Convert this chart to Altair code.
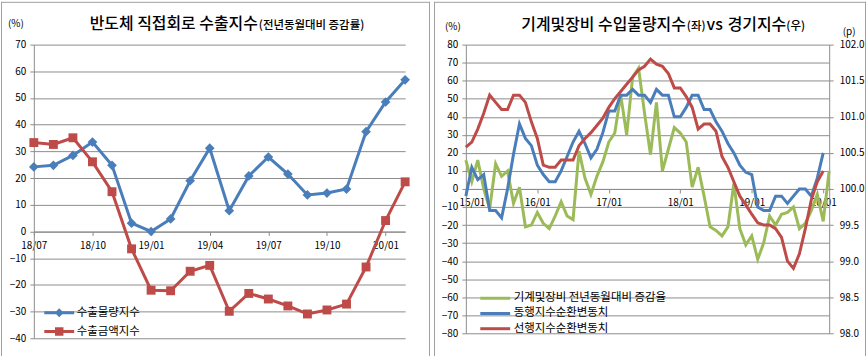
import json
import altair as alt
import pandas as pd

FONT = "Noto Sans CJK KR"
BLUE = "#4A7EBB"
RED = "#BE4B48"
GREEN = "#9BBB59"
GRID = "#8C8C8C"
BORDER = "#A0A0A0"

# ---------------- left chart data ----------------
left_months = ["18/07", "18/08", "18/09", "18/10", "18/11", "18/12", "19/01", "19/02",
               "19/03", "19/04", "19/05", "19/06", "19/07", "19/08", "19/09", "19/10",
               "19/11", "19/12", "20/01", "20/02"]
export_volume = [24.2, 24.8, 28.5, 33.5, 24.8, 3.1, 0.0, 4.7, 19.0, 31.2,
                 7.8, 20.8, 27.9, 21.5, 13.7, 14.4, 15.9, 37.4, 48.5, 56.8]
export_value = [33.3, 32.6, 35.1, 26.1, 14.9, -6.5, -22.0, -22.2, -14.9, -12.7,
                -29.9, -23.2, -25.3, -27.9, -30.9, -29.4, -27.2, -13.3, 4.1, 18.6]
left_tick_labels = ["18/07", "18/10", "19/01", "19/04", "19/07", "19/10", "20/01"]
left_series = ["수출물량지수", "수출금액지수"]
left_title = "반도체 직접회로 수출지수"
left_subtitle = "(전년동월대비 증감률)"

# ---------------- right chart data ----------------
right_months = [f"{y}/{m:02d}" for y in range(15, 21) for m in range(1, 13)][:62]
machinery_yoy = [16, 4, 16, 0, -11, 14, 7, 10, -8, 1,
                 -21, -20, -13, -19, -22, -15, -7, -15, -17, 21,
                 6, -3, 7, 15, 26, 31, 52, 30, 62, 67,
                 42, 19, 48, 10, 22, 34, 31, 26, 1, 12,
                 -4, -21, -23, -26, -21, 3, -22, -31, -26, -39,
                 -30, -15, -20, -14, -13, -10, -22, -19, -12, -3,
                 -18, 10]
coincident = [99.90, 100.30, 100.13, 100.20, 99.70, 99.70, 99.60, 100.00, 100.48, 100.90,
              100.70, 100.60, 100.33, 100.20, 100.10, 100.10, 100.25, 100.45, 100.65, 100.80,
              100.63, 100.43, 100.55, 100.78, 101.08, 101.08, 101.30, 101.30, 101.38, 101.30,
              101.30, 101.20, 101.38, 101.30, 101.30, 101.00, 101.00, 101.13, 101.30, 101.30,
              101.10, 101.10, 100.93, 100.80, 100.63, 100.50, 100.33, 100.23, 100.20, 99.75,
              99.70, 99.70, 99.90, 99.90, 99.80, 99.90, 100.00, 100.00, 99.90, 100.15,
              100.50]
leading = [100.58, 100.65, 100.83, 101.05, 101.30, 101.20, 101.10, 101.10, 101.30, 101.30,
           101.20, 100.93, 100.70, 100.33, 100.30, 100.30, 100.40, 100.40, 100.40, 100.60,
           100.70, 100.78, 100.88, 100.98, 101.13, 101.25, 101.35, 101.45, 101.55, 101.65,
           101.70, 101.80, 101.73, 101.70, 101.60, 101.40, 101.40, 101.28, 101.13, 100.83,
           100.90, 100.90, 100.80, 100.45, 100.30, 100.10, 99.90, 99.78, 99.65, 99.53,
           99.50, 99.50, 99.45, 99.33, 99.00, 98.90, 99.10, 99.45, 99.85, 100.10,
           100.25]
right_tick_labels = ["15/01", "16/01", "17/01", "18/01", "19/01", "20/01"]
right_series = ["기계및장비 전년동월대비 증감율", "동행지수순환변동치", "선행지수순환변동치"]
right_title_parts = ["기계및장비 수입물량지수", "(좌)", "vs", "경기지수", "(우)"]

BIG = 16
SMALL = 11.5
LEG = 11.5


def text_mark(text, x, y, size, align="left", baseline="alphabetic", weight=400):
    return alt.Chart(pd.DataFrame({"t": [text]})).mark_text(
        font=FONT, fontSize=size, align=align, baseline=baseline, color="#000000",
        fontWeight=weight,
    ).encode(text="t:N", x=alt.value(x), y=alt.value(y))


def frame(x1, x2, y1, y2):
    """Invisible rectangle fixing the panel bounds plus top/left/right border lines."""
    one = pd.DataFrame({"b": [0]})
    box = alt.Chart(one).mark_rect(fill="transparent", strokeWidth=0).encode(
        x=alt.value(x1), x2=alt.value(x2), y=alt.value(y1), y2=alt.value(y2))
    top = alt.Chart(one).mark_rule(color=BORDER, strokeWidth=1).encode(
        x=alt.value(x1), x2=alt.value(x2), y=alt.value(y1 + 0.5))
    lft = alt.Chart(one).mark_rule(color=BORDER, strokeWidth=1).encode(
        x=alt.value(x1 + 0.5), y=alt.value(y1), y2=alt.value(y2))
    rgt = alt.Chart(one).mark_rule(color=BORDER, strokeWidth=1).encode(
        x=alt.value(x2 - 0.5), y=alt.value(y1), y2=alt.value(y2))
    return [box, top, lft, rgt]


# ---------------- left chart ----------------
LW, LH = 373, 295
ldf = pd.DataFrame({
    "idx": list(range(len(left_months))) * 2,
    "month": left_months * 2,
    "series": [left_series[0]] * len(left_months) + [left_series[1]] * len(left_months),
    "value": export_volume + export_value,
})

lx_axis = alt.Axis(
    values=[left_months.index(t) for t in left_tick_labels],
    labelExpr=f"{json.dumps(left_months)}[datum.value]",
    grid=False, title=None, tickSize=4, labelPadding=5, labelFlush=False,
    offset=-LH * 40 / 110, labelFontSize=10,
)
lx = alt.X("idx:Q", scale=alt.Scale(domain=[0, len(left_months) - 1], nice=False, zero=False), axis=lx_axis)
ly = alt.Y("value:Q", scale=alt.Scale(domain=[-40, 70], nice=False),
           axis=alt.Axis(values=list(range(-40, 71, 10)), title=None, grid=True,
                         tickSize=4, labelPadding=4, labelFontSize=10))

DIAMOND = "M-3,-0.3H3V0.3H-3Z M0,-0.9L0.9,0L0,0.9L-0.9,0Z"
SQUARE = "M-3,-0.3H3V0.3H-3Z M-0.85,-0.85H0.85V0.85H-0.85Z"


def left_series_layers(name, color, shape, size):
    base = alt.Chart(ldf).transform_filter(alt.datum.series == name)
    line = base.mark_line(strokeWidth=3, color=color).encode(x=lx, y=ly)
    pts = base.mark_point(shape=shape, filled=True, size=size, color=color, opacity=1).encode(x=lx, y=ly)
    return [line, pts]


def left_legend():
    return alt.Legend(title=None, orient="none", legendX=19.5, legendY=263.3,
                      symbolSize=100, labelOffset=11.5, rowPadding=3, padding=0,
                      labelFontSize=LEG, labelFont=FONT, labelLimit=0,
                      labelColor="#000000", symbolOpacity=1)


legend_only = alt.Chart(ldf).transform_filter("false").mark_point(
    filled=True, opacity=1, size=100
).encode(
    x=lx, y=ly,
    color=alt.Color("series:N", scale=alt.Scale(domain=left_series, range=[BLUE, RED]), legend=left_legend()),
    shape=alt.Shape("series:N", scale=alt.Scale(domain=left_series, range=[DIAMOND, SQUARE]), legend=left_legend()),
)

left = alt.layer(
    *left_series_layers(left_series[0], BLUE, "diamond", 95),
    *left_series_layers(left_series[1], RED, "square", 80),
    legend_only,
    text_mark(left_title, 225, -16, BIG, align="right", weight=500),
    text_mark(left_subtitle, 226, -16, SMALL, align="left", weight=500),
    text_mark("(%)", -18, -21, 10, align="center", baseline="middle"),
    *frame(-33, 398, -43, 313),
).properties(width=LW, height=LH)

# ---------------- right chart ----------------
RW, RH = 365, 290
gdf = pd.DataFrame({
    "idx": list(range(len(machinery_yoy))),
    "series": [right_series[0]] * len(machinery_yoy),
    "value": machinery_yoy,
})
n_idx = len(coincident)
brdf = pd.DataFrame({
    "idx": list(range(n_idx)) * 2,
    "series": [right_series[1]] * n_idx + [right_series[2]] * n_idx,
    "value": coincident + leading,
})

rx_axis = alt.Axis(
    values=[right_months.index(t) for t in right_tick_labels],
    labelExpr=f"{json.dumps(right_months)}[datum.value]",
    grid=False, title=None, tickSize=4, labelPadding=5, labelFlush=True, labelFlushOffset=7,
    offset=-RH / 2, labelFontSize=10,
)
rx = alt.X("idx:Q", scale=alt.Scale(domain=[0, len(right_months) - 1], nice=False, zero=False), axis=rx_axis)
right_color_scale = alt.Scale(domain=right_series, range=[GREEN, BLUE, RED])
right_legend = alt.Legend(
    title=None, orient="none", legendX=23, legendY=248.3, symbolSize=100,
    symbolType="M-3,0H3", symbolStrokeWidth=3, labelOffset=12, rowPadding=2.3,
    padding=0, labelFontSize=LEG, labelFont=FONT, labelLimit=0, labelColor="#000000",
)

green_layer = alt.Chart(gdf).mark_line(strokeWidth=3).encode(
    x=rx,
    y=alt.Y("value:Q", scale=alt.Scale(domain=[-80, 80], nice=False),
            axis=alt.Axis(values=list(range(-80, 81, 10)), title=None, grid=True,
                          tickSize=4, labelPadding=4, labelFontSize=10, orient="left")),
    color=alt.Color("series:N", scale=right_color_scale, legend=right_legend),
)
br_layer = alt.Chart(brdf).mark_line(strokeWidth=3).encode(
    x=rx,
    y=alt.Y("value:Q", scale=alt.Scale(domain=[98, 102], nice=False),
            axis=alt.Axis(values=[98 + 0.5 * k for k in range(9)], format=".1f", title=None,
                          grid=False, tickSize=4, labelPadding=6, labelFontSize=10, orient="right")),
    color=alt.Color("series:N", scale=right_color_scale, legend=right_legend),
    detail="series:N",
)

right = alt.layer(
    green_layer, br_layer,
    text_mark(right_title_parts[0], 221, -15, BIG, align="right", weight=500),
    text_mark(right_title_parts[1], 222, -15, SMALL, align="left", weight=500),
    text_mark(right_title_parts[2], 250, -15, BIG, align="center", weight=500),
    text_mark(right_title_parts[3], 263, -15, BIG, align="left", weight=500),
    text_mark(right_title_parts[4], 322, -15, SMALL, align="left", weight=500),
    text_mark("(%)", -13, -18, 10, align="center", baseline="middle"),
    text_mark("(p)", 385, -13, 10, align="center", baseline="middle"),
    *frame(-32, 402, -43, 313),
).resolve_scale(y="independent").properties(width=RW, height=RH)

chart = alt.hconcat(left, right, spacing=2).resolve_scale(
    color="independent", shape="independent"
).resolve_legend(color="independent", shape="independent").properties(
    padding=0, background="white"
).configure_view(stroke=None).configure_axis(
    labelFont=FONT, labelColor="#000000", domainColor=GRID, gridColor=GRID, tickColor=GRID,
    domainWidth=1, gridWidth=1,
)

chart.save("out.html", embed_options={"renderer": "svg", "actions": False})
